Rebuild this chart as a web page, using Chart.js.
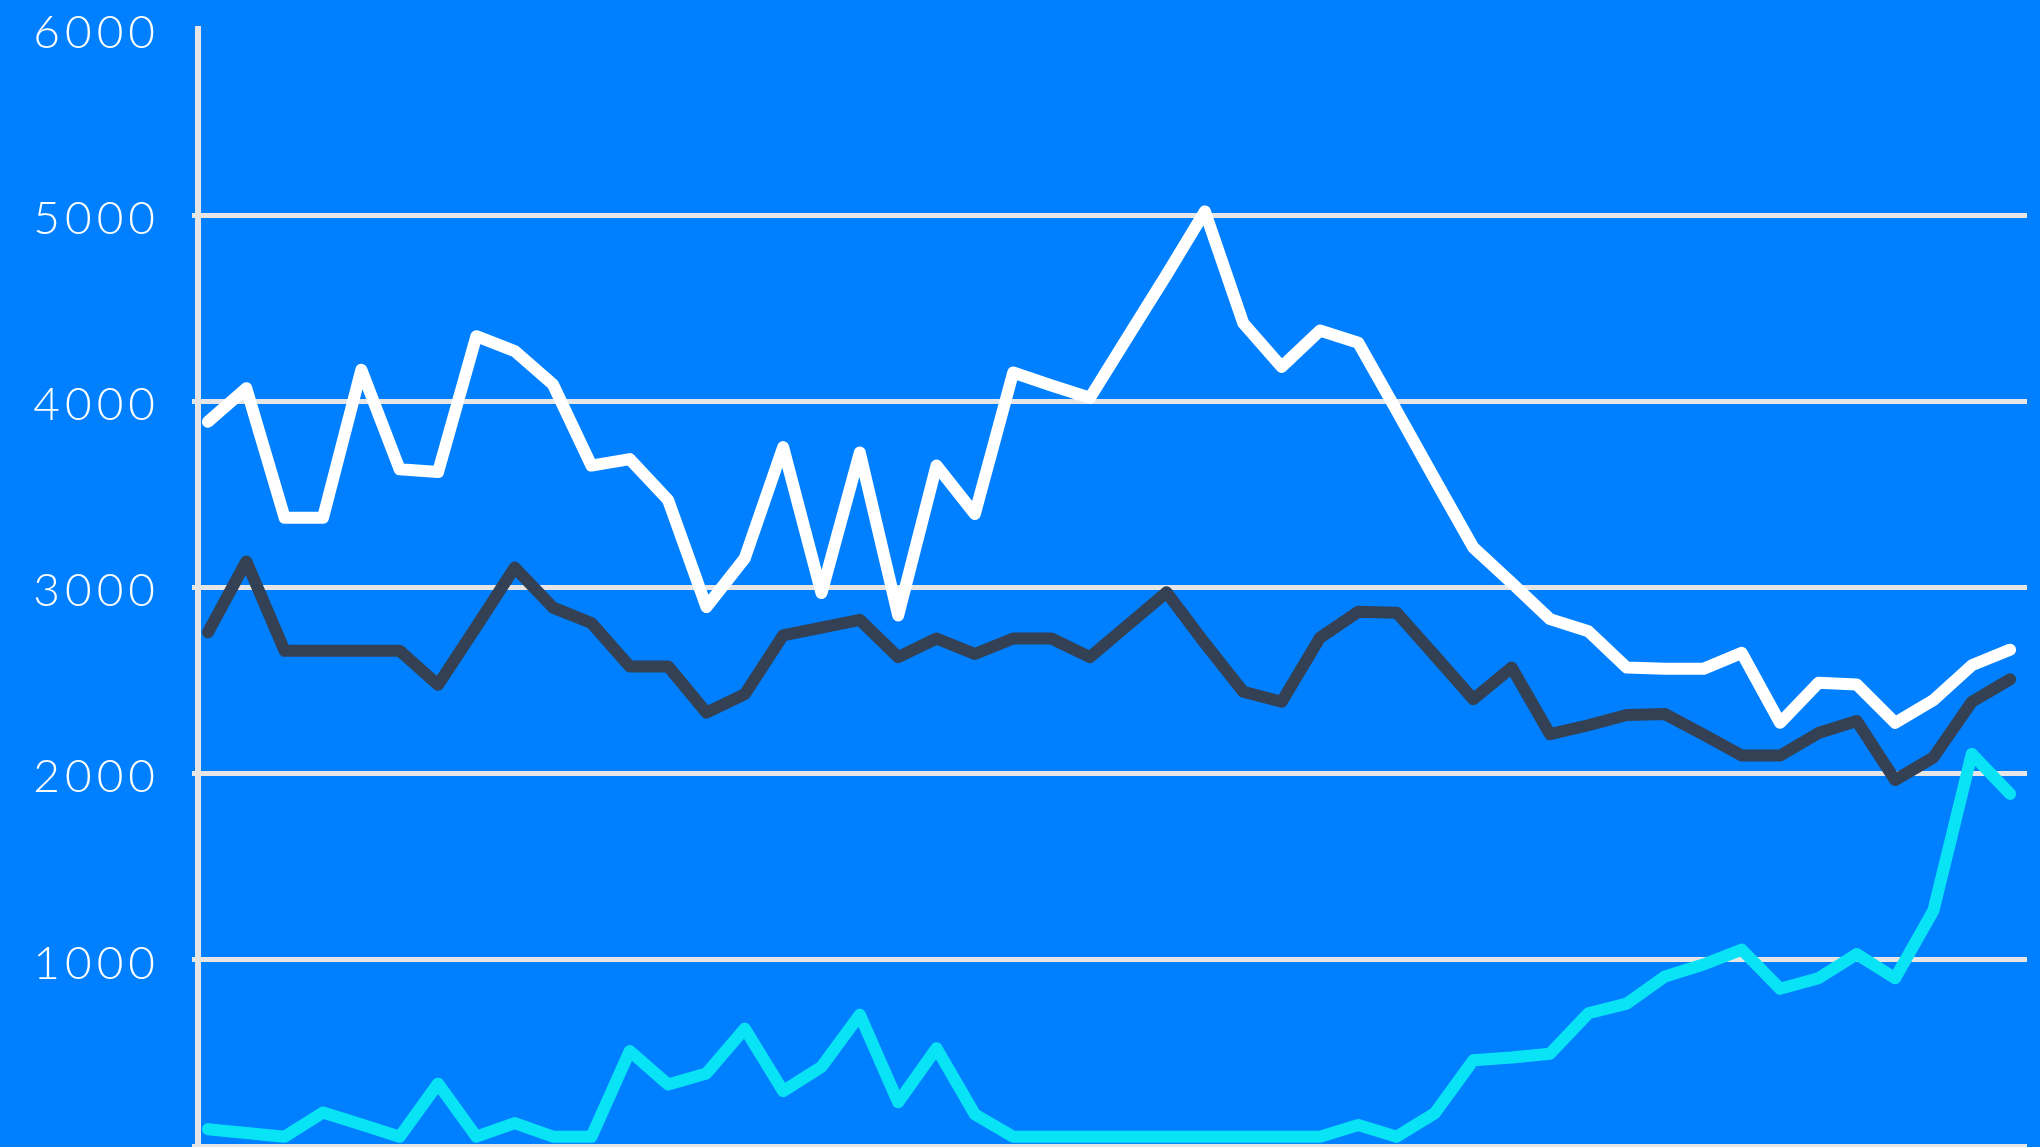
<!DOCTYPE html>
<html lang="en">
<head>
    <meta charset="UTF-8">
    <title>Chart</title>
    <style>
        html, body { margin: 0; padding: 0; background: #0080ff; overflow: hidden; }
        #wrap { width: 2040px; height: 1147px; position: relative; }
    </style>
</head>
<body>
    <div id="wrap"><canvas id="myCanvas"></canvas></div>
    <script src="https://cdn.jsdelivr.net/npm/chart.js@4.4.0/dist/chart.umd.min.js"></script>
    <script>
        // one point per period, no labels shown on the x axis
        const periods = [0, 1, 2, 3, 4, 5, 6, 7, 8, 9, 10, 11, 12, 13, 14, 15,
            16, 17, 18, 19, 20, 21, 22, 23, 24, 25, 26, 27, 28, 29, 30, 31,
            32, 33, 34, 35, 36, 37, 38, 39, 40, 41, 42, 43, 44, 45, 46, 47];

        const whiteSeries = [3890, 4070, 3375, 3375, 4170, 3635, 3620, 4350, 4270, 4090, 3655, 3690,
            3470, 2895, 3157, 3754, 2970, 3725, 2850, 3655, 3395, 4155, 4085, 4019,
            4350, 4680, 5020, 4420, 4185, 4380, 4315, 3950, 3580, 3215, 3025, 2830,
            2765, 2570, 2563, 2563, 2649, 2273, 2488, 2479, 2273, 2395, 2582, 2666];

        const darkSeries = [2759, 3140, 2660, 2660, 2660, 2660, 2477, 2790, 3107, 2892, 2809, 2576,
            2576, 2328, 2427, 2743, 2785, 2826, 2626, 2726, 2643, 2726, 2726, 2626,
            2800, 2974, 2700, 2440, 2386, 2730, 2870, 2865, 2633, 2400, 2570, 2212,
            2260, 2315, 2320, 2210, 2097, 2097, 2218, 2283, 1966, 2087, 2386, 2507];

        const cyanSeries = [90, 70, 50, 180, 115, 50, 335, 50, 123, 50, 50, 510,
            330, 390, 630, 295, 425, 705, 235, 525, 170, 50, 50, 50,
            50, 50, 50, 50, 50, 50, 113, 50, 177, 461, 475, 496,
            713, 765, 911, 975, 1055, 845, 901, 1031, 901, 1265, 2106, 1891];

        const yTicks = [0, 1000, 2000, 3000, 4000, 5000, 6000];

        const gridColor = '#e6e6e6';

        function points(values) {
            return periods.map((p, i) => ({ x: p, y: values[i] }));
        }

        function lineSet(label, values, color) {
            return {
                label: label,
                data: points(values),
                borderColor: color,
                backgroundColor: color,
                borderWidth: 12,
                borderJoinStyle: 'round',
                borderCapStyle: 'round',
                pointRadius: 0,
                tension: 0,
                fill: false
            };
        }

        // wider digit spacing for the axis labels
        const letterSpace = {
            id: 'letterSpace',
            beforeDraw(chart) {
                chart.ctx.letterSpacing = '5px';
            }
        };

        var ctx = document.getElementById('myCanvas').getContext('2d');
        var myChart = new Chart(ctx, {
            type: 'line',
            data: {
                datasets: [
                    lineSet('White', whiteSeries, '#ffffff'),
                    lineSet('Dark', darkSeries, '#344154'),
                    lineSet('Cyan', cyanSeries, '#08e4f6')
                ]
            },
            options: {
                responsive: true,
                maintainAspectRatio: false,
                animation: false,
                layout: { padding: { top: 0, right: 13, bottom: 0, left: 0 } },
                plugins: {
                    legend: { display: false },
                    tooltip: { enabled: false }
                },
                scales: {
                    x: {
                        type: 'linear',
                        display: false,
                        min: -0.26,
                        max: 47.44
                    },
                    y: {
                        min: yTicks[0],
                        max: yTicks[yTicks.length - 1],
                        afterBuildTicks(scale) {
                            scale.ticks = yTicks.map(v => ({ value: v }));
                        },
                        afterFit(scale) {
                            scale.width = 198;
                            scale.paddingTop = 29;
                            scale.paddingBottom = 1;
                        },
                        border: { display: true, color: gridColor, width: 6 },
                        grid: {
                            color: c => (c.tick && c.tick.value === 6000) ? 'rgba(0,0,0,0)' : gridColor,
                            lineWidth: 5,
                            tickLength: 6,
                            drawTicks: true
                        },
                        ticks: {
                            color: '#ffffff',
                            padding: 32,
                            labelOffset: 4,
                            font: { family: 'Lato', size: 46, weight: '300' },
                            callback: v => v === 0 ? '' : String(v)
                        }
                    }
                }
            },
            plugins: [letterSpace]
        });
    </script>
</body>
</html>
